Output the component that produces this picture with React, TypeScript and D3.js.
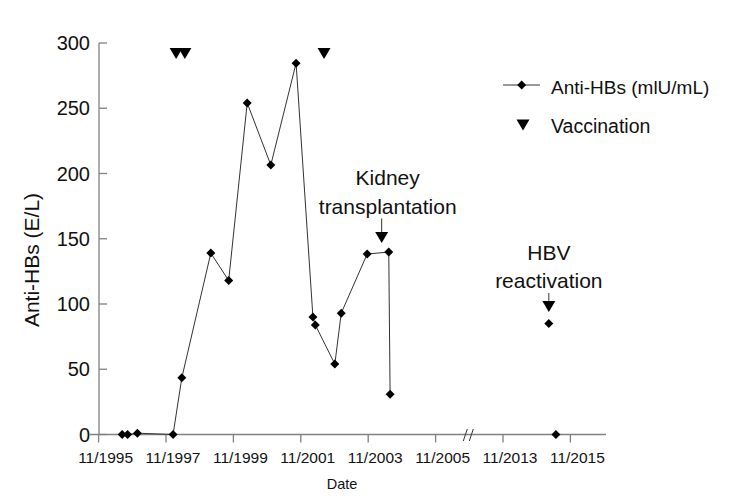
import React from "react";
import * as d3 from "d3";

// ---- data ----
const antiDates = [1996.53, 1996.69, 1996.98, 1998.04, 1998.3, 1999.16, 1999.69, 2000.24, 2000.94, 2001.69, 2002.19, 2002.26, 2002.84, 2003.03, 2003.8, 2004.44, 2004.48];
const antiValues = [0, 0, 1, 0, 43.5, 139, 118, 254, 206.5, 284.5, 90, 84, 54, 93, 138.3, 139.8, 30.8];
const laterDates = [2015.19, 2015.4];
const laterValues = [85, 0];
const vaccinationDates = [1998.13, 1998.39, 2002.52];
const vaccinationLevel = 292;
const xTickDates = [1995.83, 1997.83, 1999.83, 2001.83, 2003.83, 2005.83, 2013.83, 2015.83];
const xTickLabels = ["11/1995", "11/1997", "11/1999", "11/2001", "11/2003", "11/2005", "11/2013", "11/2015"];
const yTicks = [0, 50, 100, 150, 200, 250, 300];
const annotationLines = [["Kidney", "transplantation"], ["HBV", "reactivation"]];
const annotationDates = [2004.23, 2015.19];
const annotationLevels = [151, 98];
const legendLabels = ["Anti-HBs (mlU/mL)", "Vaccination"];

const FONT = "'Liberation Sans', Arial, sans-serif";

const x = d3
  .scaleLinear()
  .domain([1995.83, 2005.83, 2013.83, 2015.83])
  .range([98.6, 435.6, 503, 570.4]);
const y = d3.scaleLinear().domain([0, 300]).range([434.5, 43]);

const diamond = (cx: number, cy: number, r = 4.5) =>
  `M${cx},${cy - r}L${cx + r},${cy}L${cx},${cy + r}L${cx - r},${cy}Z`;
const triDown = (cx: number, cy: number, w = 13, h = 11) =>
  `M${cx - w / 2},${cy - h / 2}L${cx + w / 2},${cy - h / 2}L${cx},${cy + h / 2}Z`;

export default function App() {
  const pts = antiDates.map((d, i) => [x(d), y(antiValues[i])] as [number, number]);
  const line = d3.line()(pts) || "";
  const axisColor = "#808080";
  const annotOffsets = [
    { dx: 6, b1: -52, b2: -23, l1: -19 },
    { dx: 0, b1: -46.6, b2: -18.6, l1: -13.6 },
  ];
  return (
    <svg
      width={754}
      height={504}
      style={{ position: "absolute", left: 0, top: 0, background: "#fff" }}
      fontFamily={FONT}
    >
      <rect width={754} height={504} fill="#fff" />
      {/* y axis */}
      <line x1={99} x2={99} y1={y(300)} y2={y(0)} stroke={axisColor} strokeWidth={1.3} />
      {yTicks.map((t) => (
        <g key={t}>
          <line x1={99} x2={107} y1={y(t)} y2={y(t)} stroke={axisColor} strokeWidth={1.3} />
          <text x={90} y={y(t) + 7} textAnchor="end" fontSize={20} fill="#111">
            {t}
          </text>
        </g>
      ))}
      <text
        transform={`translate(39,260) rotate(-90)`}
        textAnchor="middle"
        fontSize={21}
        fill="#111"
      >
        Anti-HBs (E/L)
      </text>
      {/* x axis */}
      <line x1={90} x2={606} y1={y(0)} y2={y(0)} stroke={axisColor} strokeWidth={1.3} />
      {xTickDates.map((d, i) => (
        <g key={d}>
          <line x1={x(d)} x2={x(d)} y1={y(0)} y2={y(0) + 8} stroke={axisColor} strokeWidth={1.3} />
          <text x={x(d) + 7} y={462.5} textAnchor="middle" fontSize={15.5} fill="#111">
            {xTickLabels[i]}
          </text>
        </g>
      ))}
      <text x={342} y={489} textAnchor="middle" fontSize={14.5} fill="#111">
        Date
      </text>
      {/* axis break */}
      <line x1={463.3} y1={441} x2={467.3} y2={429} stroke="#333" strokeWidth={1} />
      <line x1={469.3} y1={441} x2={473.3} y2={429} stroke="#333" strokeWidth={1} />
      {/* series */}
      <path d={line} fill="none" stroke="#333" strokeWidth={1} />
      {pts.map(([px, py], i) => (
        <path key={i} d={diamond(px, py)} fill="#000" />
      ))}
      {laterDates.map((d, i) => (
        <path key={"l" + i} d={diamond(x(d), y(laterValues[i]))} fill="#000" />
      ))}
      {vaccinationDates.map((d, i) => (
        <path key={"v" + i} d={triDown(x(d), y(vaccinationLevel))} fill="#000" />
      ))}
      {/* annotations */}
      {annotationDates.map((d, i) => {
        const cx = x(d);
        const cy = y(annotationLevels[i]);
        const o = annotOffsets[i];
        return (
          <g key={"a" + i}>
            <text x={cx + o.dx} y={cy + o.b1} textAnchor="middle" fontSize={21} fill="#111">
              {annotationLines[i][0]}
            </text>
            <text x={cx + o.dx} y={cy + o.b2} textAnchor="middle" fontSize={21} fill="#111">
              {annotationLines[i][1]}
            </text>
            <line x1={cx} x2={cx} y1={cy + o.l1} y2={cy - 5} stroke="#333" strokeWidth={1} />
            <path d={triDown(cx, cy)} fill="#000" />
          </g>
        );
      })}
      {/* legend */}
      <line x1={503} x2={540} y1={85} y2={85} stroke="#333" strokeWidth={1} />
      <path d={diamond(521.7, 85)} fill="#000" />
      <text x={551} y={93.5} fontSize={19} fill="#111">
        {legendLabels[0]}
      </text>
      <path d={triDown(523, 125)} fill="#000" />
      <text x={551} y={132.5} fontSize={19.5} fill="#111">
        {legendLabels[1]}
      </text>
    </svg>
  );
}
